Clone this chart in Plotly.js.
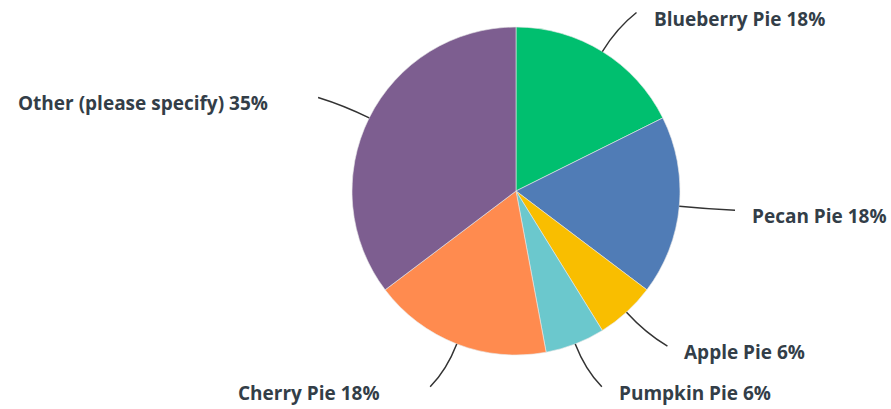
<!DOCTYPE html>
<html>
<head>
<meta charset="utf-8">
<script src="https://cdn.plot.ly/plotly-3.0.1.min.js"></script>
<style>html,body{margin:0;padding:0;background:#fff;}#chart{width:891px;height:409px;}</style>
</head>
<body>
<div id="chart"></div>
<script>
// Data
const labels = ["Blueberry Pie", "Pecan Pie", "Apple Pie", "Pumpkin Pie", "Cherry Pie", "Other (please specify)"];
const values = [3, 3, 1, 1, 3, 6];
const colors = ["#00BF6F", "#507CB6", "#F9BE00", "#6BC8CD", "#FF8B4F", "#7D5E90"];

const W = 891, H = 409;
const cx = 516, cy = 191, R = 164;

const total = values.reduce((a, b) => a + b, 0);
const pct = values.map(v => Math.round(v / total * 100));

const shapes = [];
const annotations = [];
let cum = 0;
const px = x => x / W;
const py = y => 1 - y / H;
values.forEach((v, i) => {
  const mid = (cum + v / 2) / total * 2 * Math.PI;
  cum += v;
  const s = Math.sin(mid), c = Math.cos(mid);
  const right = s >= 0;
  const dir = right ? 1 : -1;
  const x0 = cx + R * s, y0 = cy - R * c;
  const xc = cx + 1.17 * R * s, yc = cy - 1.17 * R * c;
  const x2 = cx + 1.28 * R * s + 10 * dir, y2 = cy - 1.28 * R * c;
  shapes.push({
    type: "path", xref: "paper", yref: "paper",
    path: `M ${px(x0)},${py(y0)} Q ${px(xc)},${py(yc)} ${px(x2)},${py(y2)}`,
    line: {color: "#333333", width: 1.5}
  });
  annotations.push({
    xref: "paper", yref: "paper",
    x: px(right ? x2 + 15 : x2 - 48), y: py(y2 + 6),
    xanchor: right ? "left" : "right", yanchor: "middle",
    showarrow: false,
    text: labels[i] + " " + pct[i] + "%",
    font: {family: "Open Sans, sans-serif", size: 19, color: "#333e48", weight: 700}
  });
});

const trace = {
  type: "pie",
  labels: labels,
  values: values,
  marker: {colors: colors, line: {color: "#e8e8e8", width: 0.6}},
  sort: false,
  direction: "clockwise",
  rotation: 0,
  textinfo: "none",
  hoverinfo: "none",
  showlegend: false,
  domain: {x: [(cx - R) / W, (cx + R) / W], y: [(H - cy - R) / H, (H - cy + R) / H]}
};

const layout = {
  width: W, height: H,
  margin: {l: 0, r: 0, t: 0, b: 0},
  paper_bgcolor: "#ffffff",
  showlegend: false,
  shapes: shapes,
  annotations: annotations
};

Plotly.newPlot("chart", [trace], layout, {displayModeBar: false, staticPlot: true});
</script>
</body>
</html>
